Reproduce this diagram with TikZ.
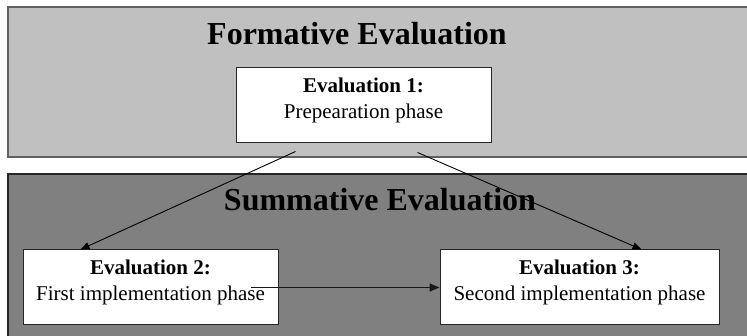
\documentclass[tikz,border=0pt]{standalone}
\usepackage{fontspec}
\setmainfont{Liberation Serif}
\usetikzlibrary{arrows.meta}
\definecolor{panellight}{HTML}{C0C0C0}
\definecolor{paneldark}{HTML}{808080}
\begin{document}
\begin{tikzpicture}[x=1pt,y=-1pt,
  toppanel/.style={fill=panellight, draw=black!62, line width=1.6pt},
  botpanel/.style={fill=paneldark, draw=black!85, line width=1.4pt},
  evalbox/.style={draw=black!85, fill=white, line width=1pt, rectangle, inner sep=0pt, minimum height=75pt},
  paneltitle/.style={anchor=base, inner sep=0pt, font=\fontsize{32}{38}\selectfont\bfseries},
  boxhead/.style={anchor=base, inner sep=0pt, font=\fontsize{21}{26}\selectfont\bfseries},
  boxtext/.style={anchor=base, inner sep=0pt, font=\fontsize{21}{26}\selectfont},
  flow/.style={draw=black, line width=0.9pt, -{Triangle[length=9pt,width=7pt]}},
  flowthick/.style={draw=black!90, line width=1.8pt, -{Triangle[length=10pt,width=8pt]}}]
\useasboundingbox (0,0) rectangle (747,336);
\fill[white] (0,0) rectangle (747,336);
% panels
\draw[toppanel] (8,7) rectangle (760,157);
\draw[botpanel] (8,174) rectangle (760,350);
% titles
\node[paneltitle] (formative) at (357,45) {Formative Evaluation};
\node[paneltitle] (summative) at (380,211) {Summative Evaluation};
% boxes
\node[evalbox, minimum width=255pt] (e1) at (363.5,105.5) {};
\node[evalbox, minimum width=255pt] (e2) at (150.5,287.5) {};
\node[evalbox, minimum width=279pt] (e3) at (579.5,287.5) {};
% box texts
\node[boxhead] (e1a) at ([yshift=-25pt]e1.north) {Evaluation 1:};
\node[boxtext] (e1b) at ([yshift=-51pt]e1.north) {Prepearation phase};
\node[boxhead] (e2a) at ([yshift=-25pt]e2.north) {Evaluation 2:};
\node[boxtext] (e2b) at ([yshift=-51pt]e2.north) {First implementation phase};
\node[boxhead] (e3a) at ([yshift=-25pt]e3.north) {Evaluation 3:};
\node[boxtext] (e3b) at ([yshift=-51pt]e3.north) {Second implementation phase};
% connector ends
\coordinate (s1) at ([xshift=60pt,yshift=-8pt]e1.south west);
\coordinate (s2) at ([xshift=-74pt,yshift=-9pt]e1.south east);
\coordinate (t1) at ([xshift=58pt]e2.north west);
\coordinate (t2) at ([xshift=-78pt]e3.north east);
\coordinate (s3) at ([xshift=-28pt]e2.east);
% connectors
\draw[flow] (s1) -- (t1);
\draw[flow] (s2) -- (t2);
\draw[flowthick] (s3) -- (e3.west);
\end{tikzpicture}
\end{document}
